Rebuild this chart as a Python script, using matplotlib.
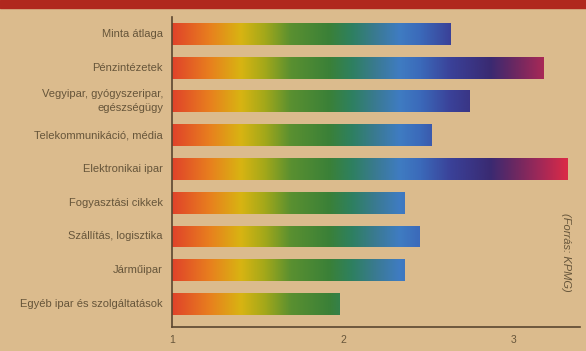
import matplotlib.pyplot as plt
import numpy as np
from matplotlib.colors import LinearSegmentedColormap
from matplotlib.patches import Rectangle

categories = ["Minta átlaga", "Pénzintézetek", "Vegyipar, gyógyszeripar,\negészségügy",
              "Telekommunikáció, média", "Elektronikai ipar", "Fogyasztási cikkek",
              "Szállítás, logisztika", "Járműipar", "Egyéb ipar és szolgáltatások"]
values = [2.63, 3.17, 2.74, 2.52, 3.31, 2.36, 2.45, 2.36, 1.98]
ticks = [1, 2, 3]

bg = "#dbbb8d"
txt = "#66553a"
narrow = ["Liberation Sans Narrow", "Liberation Sans", "DejaVu Sans"]

# spectrum runs along the value axis, shared by all bars
stops = [(1.0, "#e0432a"), (1.22, "#e8801e"), (1.40, "#d8b412"), (1.54, "#a3a81a"),
         (1.69, "#5a9030"), (1.92, "#3a8038"), (2.05, "#2e8060"), (2.19, "#3a7a92"),
         (2.33, "#3f7cc2"), (2.45, "#3b6aba"), (2.63, "#3a4198"), (2.86, "#3a2a72"),
         (3.0, "#6a2862"), (3.15, "#a02858"), (3.30, "#d82a48"), (3.40, "#e02a48")]
x0, x1 = 1.0, 3.40
cmap = LinearSegmentedColormap.from_list(
    "spec", [((v - x0) / (x1 - x0), c) for v, c in stops])

fig = plt.figure(figsize=(5.86, 3.51), dpi=100, facecolor=bg)
# red header strip
fig.patches.append(Rectangle((0, 1 - 8 / 351), 1, 8 / 351, transform=fig.transFigure,
                             color="#b0281e", zorder=0))

ax = fig.add_axes([172 / 586, 1 - 327 / 351, 408 / 586, 310 / 351])
ax.set_facecolor(bg)

grad = np.linspace(0, 1, 512).reshape(1, -1)
h = 0.65
for i, v in enumerate(values):
    im = ax.imshow(grad, cmap=cmap, aspect="auto", extent=(x0, x1, i + h / 2, i - h / 2),
                   interpolation="bilinear", zorder=2)
    rect = Rectangle((1, i - h / 2), v - 1, h, transform=ax.transData)
    im.set_clip_path(rect)
    ax.text(1 - 9 / 171, i, categories[i], ha="right", va="center", fontsize=8,
            color=txt, linespacing=1.5, family=narrow)
ax.set_xlim(1, 1 + 408 / 171)
ax.set_ylim(8.68, -0.5)

for s in ["top", "right"]:
    ax.spines[s].set_visible(False)
for s in ["left", "bottom"]:
    ax.spines[s].set_color("#5a4630")
    ax.spines[s].set_linewidth(1.2)
ax.set_yticks([])
ax.set_xticks(ticks)
ax.set_xticklabels([str(t) for t in ticks], fontsize=7.5, color=txt, family=narrow)
ax.tick_params(axis="x", length=0, pad=6)

fig.text(566 / 586, 1 - 252 / 351, "(Forrás: KPMG)", rotation=-90, ha="center",
         va="center", fontsize=8, style="italic", color=txt, family=narrow)

fig.savefig("out.png", dpi=100, facecolor=bg)
